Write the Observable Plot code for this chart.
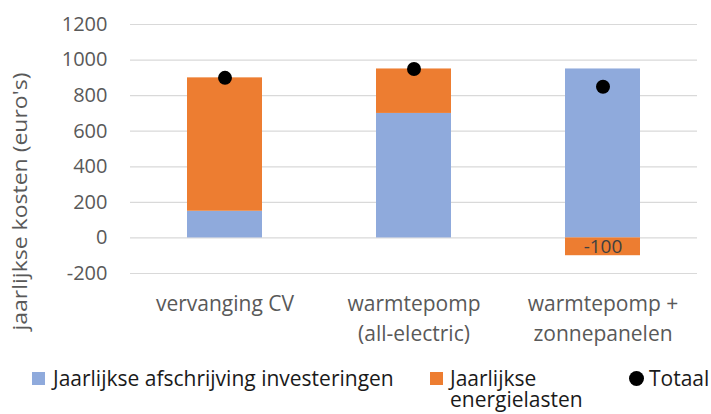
<!DOCTYPE html>
<html>
<head>
<meta charset="utf-8">
<script src="https://cdn.jsdelivr.net/npm/d3@7"></script>
<script src="https://cdn.jsdelivr.net/npm/@observablehq/plot@0.6"></script>
<style>
  html, body { margin: 0; padding: 0; background: #fff; }
  body { width: 711px; height: 414px; overflow: hidden; font-family: "Open Sans", sans-serif; }
  #legend { position: relative; height: 62px; font-size: 21px; color: #1a1a1a; }
  .item { position: absolute; display: flex; align-items: flex-start; line-height: 21px; white-space: nowrap; }
  .sw { display: inline-block; width: 13px; height: 13px; margin-top: 4px; }
  .dotsw { display: inline-block; width: 15px; height: 15px; border-radius: 50%; background: #000; margin-top: 3px; margin-right: 5px; }
</style>
</head>
<body>
<div id="chart"></div>
<div id="legend"></div>
<script>
const categories = ["vervanging CV", "warmtepomp\n(all-electric)", "warmtepomp +\nzonnepanelen"];
const afschrijving = [150, 700, 950];
const energielasten = [750, 250, -100];
const totaal = [900, 950, 850];
const yTicks = [-200, 0, 200, 400, 600, 800, 1000, 1200];
const seriesNames = ["Jaarlijkse afschrijving investeringen", "Jaarlijkse energielasten", "Totaal"];
const colors = ["#8FAADC", "#ED7D31"];
const yLabel = "jaarlijkse kosten (euro's)";

const rows = [];
categories.forEach((c, i) => {
  rows.push({cat: c, series: seriesNames[0], value: afschrijving[i]});
  rows.push({cat: c, series: seriesNames[1], value: energielasten[i]});
});
const totals = categories.map((c, i) => ({cat: c, value: totaal[i]}));
const negatives = rows.filter(d => d.value < 0);

const chart = Plot.plot({
  width: 711,
  height: 352,
  marginLeft: 130,
  marginRight: 14,
  marginTop: 24,
  marginBottom: 79,
  style: {fontFamily: "'Open Sans', sans-serif", fontSize: "20px", color: "#595959"},
  x: {type: "band", domain: categories, paddingInner: 0.603, paddingOuter: 0.3, label: null},
  y: {domain: [-200, 1200], ticks: yTicks, label: null},
  color: {domain: seriesNames.slice(0, 2), range: colors},
  marks: [
    Plot.gridY(yTicks, {stroke: "#d9d9d9", strokeOpacity: 1, strokeWidth: 1.2}),
    Plot.barY(rows, {x: "cat", y: "value", fill: "series", order: seriesNames}),
    Plot.text(negatives, {x: "cat", y: d => d.value / 2, text: d => String(d.value), fill: "#404040", fontSize: 19}),
    Plot.dot(totals, {x: "cat", y: "value", r: 7, fill: "#000", stroke: null}),
    Plot.axisY(yTicks, {tickSize: 0, tickPadding: 23, fontSize: 20, fill: "#595959", tickFormat: d => String(d), label: null}),
    Plot.axisX({tickSize: 0, tickPadding: 16, fontSize: 21, fill: "#595959", lineHeight: 1.43, label: null}),
    Plot.text([yLabel], {frameAnchor: "left", textAnchor: "middle", rotate: -90, dx: -110, dy: 52.5, fontSize: 20, fill: "#595959", text: d => d})
  ]
});
document.getElementById("chart").appendChild(chart);
d3.select(chart).selectAll("text").filter(function() { return this.textContent === yLabel; })
  .attr("textLength", 258).attr("lengthAdjust", "spacingAndGlyphs");

const legend = document.getElementById("legend");
const items = [
  {left: 32, html: `<span class="sw" style="background:${colors[0]};margin-right:8px"></span><span>${seriesNames[0]}</span>`},
  {left: 430, html: `<span class="sw" style="background:${colors[1]};margin-right:7px"></span><span>Jaarlijkse<br>energielasten</span>`},
  {left: 629, html: `<span class="dotsw"></span><span>${seriesNames[2]}</span>`}
];
items.forEach(it => {
  const d = document.createElement("div");
  d.className = "item";
  d.style.left = it.left + "px";
  d.style.top = "16px";
  d.innerHTML = it.html;
  legend.appendChild(d);
});
</script>
</body>
</html>
